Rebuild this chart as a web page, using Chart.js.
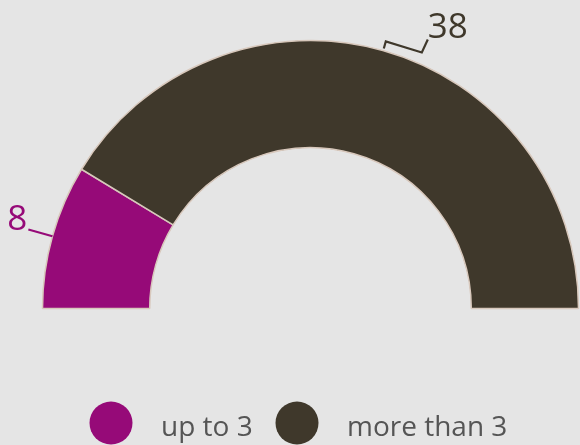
<!DOCTYPE html>
<html>
<head>
<meta charset="utf-8">
<script src="https://cdn.jsdelivr.net/npm/chart.js@4"></script>
<style>
  html, body { margin: 0; padding: 0; background: #e5e5e5; }
  #wrap { width: 580px; height: 445px; position: relative; }
</style>
</head>
<body>
<div id="wrap"><canvas id="chart" width="580" height="445"></canvas></div>
<script>
const labels = ["up to 3", "more than 3"];
const values = [8, 38];
const colors = ["#960a78", "#3f382b"];

// value labels outside the ring, with a short leader line
const outsideLabels = {
  id: "outsideLabels",
  afterDatasetsDraw(chart) {
    const ctx = chart.ctx;
    const meta = chart.getDatasetMeta(0);
    ctx.save();
    ctx.font = "35px 'Open Sans'";
    meta.data.forEach((arc, i) => {
      const mid = (arc.startAngle + arc.endAngle) / 2;
      const r = arc.outerRadius;
      const x0 = arc.x + Math.cos(mid) * r;
      const y0 = arc.y + Math.sin(mid) * r;
      ctx.strokeStyle = colors[i];
      ctx.fillStyle = colors[i];
      ctx.lineWidth = 2.2;
      ctx.beginPath();
      if (i === 0) {
        const x1 = arc.x + Math.cos(mid) * (r + 25);
        const y1 = arc.y + Math.sin(mid) * (r + 25);
        ctx.moveTo(x0, y0);
        ctx.lineTo(x1, y1);
        ctx.stroke();
        ctx.textAlign = "right";
        ctx.textBaseline = "alphabetic";
        ctx.fillText(String(values[i]), x1 - 1, y1 + 1);
      } else {
        ctx.moveTo(x0 + 1, y0 - 2);
        ctx.lineTo(x0 + 3, y0 - 9);
        ctx.lineTo(x0 + 39, y0 + 2);
        ctx.lineTo(x0 + 45, y0 - 11);
        ctx.stroke();
        ctx.textAlign = "left";
        ctx.textBaseline = "alphabetic";
        ctx.fillText(String(values[i]), x0 + 45, y0 - 12);
      }
    });
    ctx.restore();
  }
};

// legend row at the bottom
const bottomLegend = {
  id: "bottomLegend",
  afterDraw(chart) {
    const ctx = chart.ctx;
    const xs = [111, 297];
    const y = 423;
    ctx.save();
    ctx.font = "28px 'Open Sans'";
    ctx.textBaseline = "alphabetic";
    ctx.textAlign = "left";
    labels.forEach((lab, i) => {
      ctx.fillStyle = colors[i];
      ctx.beginPath();
      ctx.arc(xs[i], y, 21.5, 0, Math.PI * 2);
      ctx.fill();
      ctx.fillStyle = "#555555";
      ctx.fillText(lab, xs[i] + 50, 436);
    });
    ctx.restore();
  }
};

new Chart(document.getElementById("chart"), {
  type: "doughnut",
  data: {
    labels,
    datasets: [{
      data: values,
      backgroundColor: colors,
      borderColor: "#d8c8bc",
      borderWidth: 1.5
    }]
  },
  options: {
    responsive: false,
    animation: false,
    rotation: -90,
    circumference: 180,
    cutout: "60%",
    radius: 268,
    layout: { padding: { left: 41, right: 0, top: 0, bottom: 96 } },
    plugins: {
      legend: { display: false },
      tooltip: { enabled: false }
    }
  },
  plugins: [outsideLabels, bottomLegend]
});
</script>
</body>
</html>
